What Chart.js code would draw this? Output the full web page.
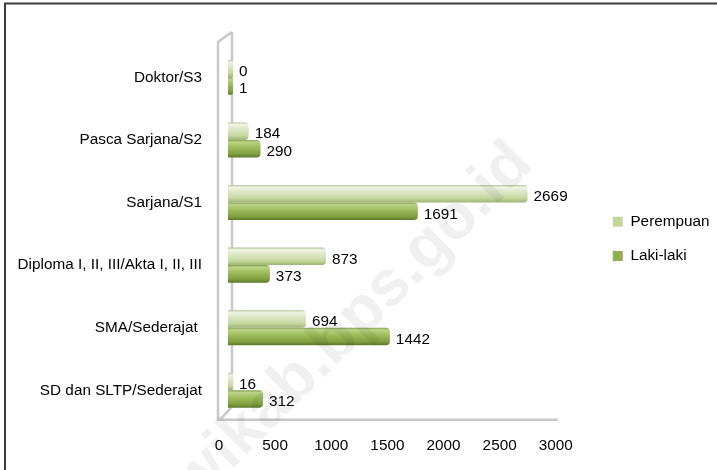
<!DOCTYPE html>
<html>
<head>
<meta charset="utf-8">
<script src="https://cdn.jsdelivr.net/npm/chart.js@4.4.1/dist/chart.umd.min.js"></script>
<style>
html,body{margin:0;padding:0;background:#fff;}
canvas{display:block;}
</style>
</head>
<body>
<canvas id="c" width="717" height="470"></canvas>
<script>
// ---- data ----
const categories = ['Doktor/S3', 'Pasca Sarjana/S2', 'Sarjana/S1', 'Diploma I, II, III/Akta I, II, III', 'SMA/Sederajat ', 'SD dan SLTP/Sederajat'];
const perempuan = [0, 184, 2669, 873, 694, 16];
const lakiLaki = [1, 290, 1691, 373, 1442, 312];
const seriesNames = ['Perempuan', 'Laki-laki'];
const xTickValues = [0, 500, 1000, 1500, 2000, 2500, 3000];
const watermarkText = 'wikab.bps.go.id';

// ---- style ----
const FONT_FAMILY = '"Liberation Sans", Arial, sans-serif';
const FONT_SIZE = 15.3;
const CAT_PCT = 0.56;

function cylinderFill(stops, solid) {
  return (ctx) => {
    const chart = ctx.chart;
    const ys = chart.scales && chart.scales.y;
    if (!ys || ctx.dataIndex === undefined || !isFinite(ys.height) || ys.height <= 0) return solid;
    const n = chart.data.labels.length;
    const th = (ys.height / n) * CAT_PCT / 2;
    const yc = ys.getPixelForValue(ctx.dataIndex) + (ctx.datasetIndex - 0.5) * th;
    const g = chart.ctx.createLinearGradient(0, yc - th / 2, 0, yc + th / 2);
    stops.forEach(s => g.addColorStop(s[0], s[1]));
    return g;
  };
}

const lightStops = [[0, '#b3c497'], [0.12, '#eef4e3'], [0.35, '#dfe9ca'], [0.75, '#c6d8a0'], [1, '#9db474']];
const darkStops = [[0, '#84a050'], [0.12, '#bcd488'], [0.4, '#9fbe5e'], [0.8, '#809f40'], [1, '#5d7829']];

const wallsPlugin = {
  id: 'walls',
  beforeDatasetsDraw(chart) {
    const {ctx, chartArea: a, scales} = chart;
    const xEnd = scales.x.getPixelForValue(xTickValues[xTickValues.length - 1]);
    ctx.save();
    ctx.strokeStyle = '#c9c9c9';
    ctx.lineWidth = 2.5;
    ctx.beginPath();
    // back wall
    ctx.moveTo(a.left + 4, a.top - 14);
    ctx.lineTo(a.left + 4, a.bottom - 15);
    ctx.lineTo(a.left - 7, a.bottom - 3);
    // front wall
    ctx.moveTo(a.left + 4, a.top - 14);
    ctx.lineTo(a.left - 10, a.top - 4);
    ctx.lineTo(a.left - 10, a.bottom - 2);
    // floor
    ctx.lineTo(xEnd - 7, a.bottom - 2);
    ctx.stroke();
    ctx.restore();
  }
};

const valueLabels = {
  id: 'valueLabels',
  afterDatasetsDraw(chart) {
    const ctx = chart.ctx;
    ctx.save();
    ctx.font = FONT_SIZE + 'px ' + FONT_FAMILY;
    ctx.fillStyle = '#000';
    ctx.textAlign = 'left';
    ctx.textBaseline = 'middle';
    chart.data.datasets.forEach((ds, di) => {
      const meta = chart.getDatasetMeta(di);
      meta.data.forEach((el, i) => {
        ctx.fillText(String(ds.data[i]), el.x + 6, el.y + 3);
      });
    });
    ctx.restore();
  }
};

const legendNudge = {
  id: 'legendNudge',
  afterLayout(chart) {
    const lg = chart.legend;
    if (!lg) return;
    lg.left += 29; lg.right += 29;
    lg.top += 5; lg.bottom += 5;
  }
};

const framePlugin = {
  id: 'frame',
  afterDraw(chart) {
    const ctx = chart.ctx;
    ctx.save();
    // watermark
    const size = 64;
    ctx.font = 'bold ' + size + 'px ' + FONT_FAMILY;
    ctx.fillStyle = 'rgba(0,0,0,0.06)';
    ctx.translate(334, 340);
    ctx.rotate(-Math.PI / 4);
    const pre = ctx.measureText('wikab.').width + ctx.measureText('b').width / 2;
    ctx.textAlign = 'left';
    ctx.textBaseline = 'alphabetic';
    ctx.fillText(watermarkText, -pre, size * 0.3);
    ctx.restore();
    // frame
    ctx.save();
    ctx.strokeStyle = '#3c3c3c';
    ctx.lineWidth = 2;
    ctx.beginPath();
    ctx.moveTo(5, chart.height);
    ctx.lineTo(5, 3.5);
    ctx.lineTo(chart.width, 3.5);
    ctx.stroke();
    ctx.restore();
  }
};

Chart.defaults.font.family = FONT_FAMILY;
Chart.defaults.font.size = FONT_SIZE;
Chart.defaults.color = '#000';

new Chart(document.getElementById('c'), {
  type: 'bar',
  data: {
    labels: categories,
    datasets: [
      {
        label: seriesNames[0],
        data: perempuan,
        backgroundColor: cylinderFill(lightStops, '#c3d69b'),
        borderWidth: 0,
        borderRadius: 4,
        minBarLength: 5,
        categoryPercentage: CAT_PCT,
        barPercentage: 1.0
      },
      {
        label: seriesNames[1],
        data: lakiLaki,
        backgroundColor: cylinderFill(darkStops, '#8fae4e'),
        borderWidth: 0,
        borderRadius: 4,
        minBarLength: 5,
        categoryPercentage: CAT_PCT,
        barPercentage: 1.0
      }
    ]
  },
  options: {
    indexAxis: 'y',
    responsive: false,
    animation: false,
    events: [],
    layout: { padding: { top: 46, right: 26.5, bottom: 0, left: 0 } },
    scales: {
      x: {
        min: 0,
        max: 3000,
        afterBuildTicks(scale) { scale.ticks = xTickValues.map(v => ({ value: v })); },
        ticks: { padding: 15, labelOffset: -9, font: { size: FONT_SIZE }, color: '#000', callback: v => String(v) },
        grid: { display: false, drawTicks: false },
        border: { display: false }
      },
      y: {
        ticks: { padding: 26, font: { size: FONT_SIZE }, color: '#000' },
        grid: { display: false, drawTicks: false },
        border: { display: false },
        afterFit(scale) { scale.width = 228; }
      }
    },
    plugins: {
      legend: {
        position: 'right',
        fullSize: false,
        labels: {
          boxWidth: 10,
          boxHeight: 10,
          padding: 19,
          font: { size: FONT_SIZE },
          color: '#000',
          generateLabels(chart) {
            const solid = ['#c3d69b', '#8fae4e'];
            return chart.data.datasets.map((ds, i) => ({
              text: ds.label, fillStyle: solid[i], strokeStyle: solid[i], lineWidth: 0, datasetIndex: i, hidden: false
            }));
          }
        }
      },
      tooltip: { enabled: false }
    }
  },
  plugins: [wallsPlugin, valueLabels, legendNudge, framePlugin]
});
</script>
</body>
</html>
